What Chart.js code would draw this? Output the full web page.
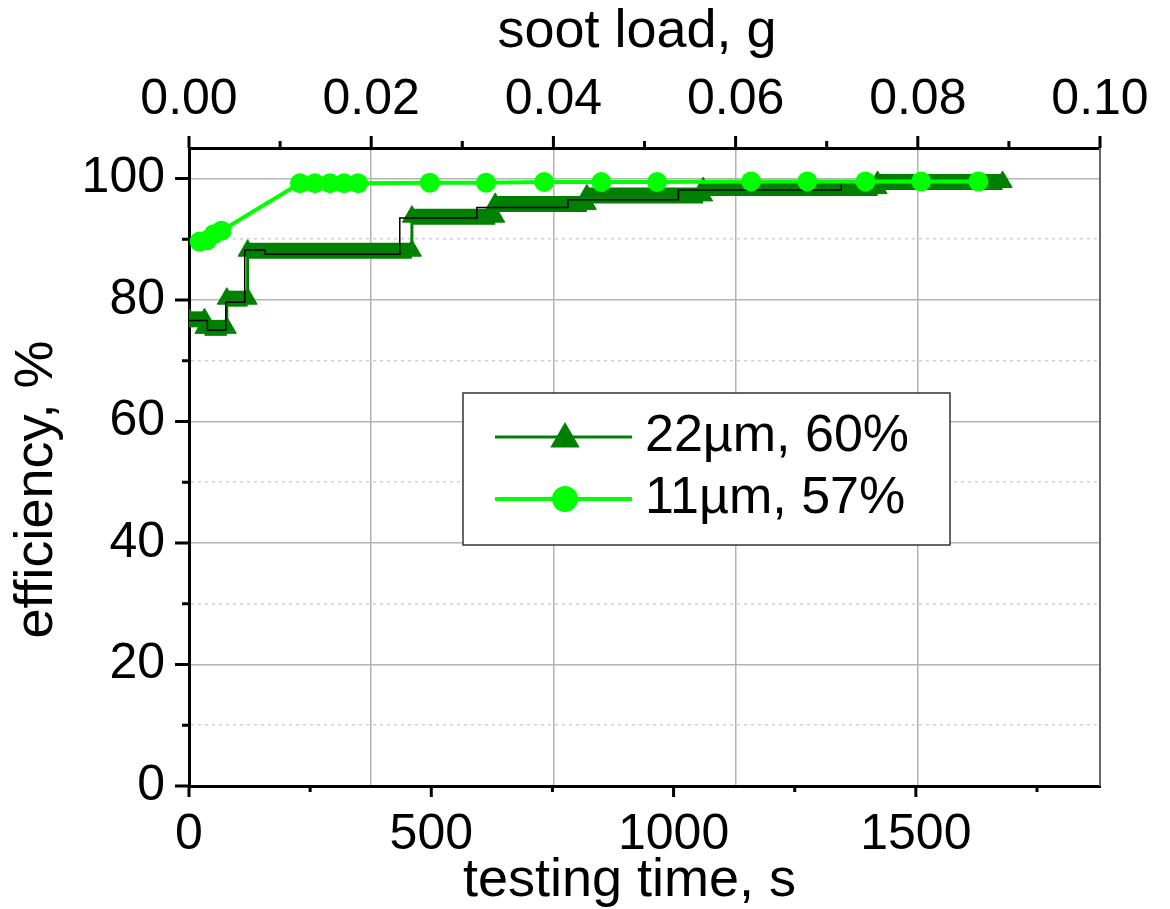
<!DOCTYPE html>
<html>
<head>
<meta charset="utf-8">
<script src="https://cdn.jsdelivr.net/npm/chart.js@4.4.1/dist/chart.umd.min.js"></script>
<style>
  body { margin: 0; background: #fff; }
</style>
</head>
<body>
<canvas id="myChart" width="1170" height="909"></canvas>
<script>
// tick values of the three axes
const timeTicks = [0, 250, 500, 750, 1000, 1250, 1500, 1750];
const sootTicks = [0, 0.01, 0.02, 0.03, 0.04, 0.05, 0.06, 0.07, 0.08, 0.09, 0.10];
const effTicks = [0, 10, 20, 30, 40, 50, 60, 70, 80, 90, 100];

// 22um, 60% - start and end of every step
const time22 = [0, 32, 32, 78, 78, 121, 121, 460, 460, 632, 632, 821, 821, 1061, 1061, 1421, 1421, 1679];
const eff22 = [76.8, 76.8, 75.4, 75.4, 80.2, 80.2, 88.1, 88.1, 93.7, 93.7, 95.8, 95.8, 97.2, 97.2, 98.4, 98.4, 99.4, 99.4];

// thin black step line
const timeStep = [0, 38, 76, 115, 157, 435, 594, 782, 1010, 1346, 1596];
const effStep = [76.6, 75.0, 79.6, 88.2, 87.5, 93.5, 95.2, 96.5, 98.1, 99.5, 99.5];

// 11um, 57%
const time11 = [22, 37, 51, 67, 229, 260, 291, 320, 349, 497, 613, 733, 851, 966, 1160, 1276, 1396, 1511, 1629];
const eff11 = [89.6, 89.8, 90.8, 91.4, 99.2, 99.2, 99.2, 99.2, 99.2, 99.3, 99.3, 99.4, 99.4, 99.4, 99.5, 99.5, 99.5, 99.5, 99.5];

const labels = ['22µm, 60%', '11µm, 57%'];

const darkGreen = 'rgb(0, 128, 0)';
const lightGreen = 'rgb(0, 255, 0)';

function toPoints(xs, ys) {
    return xs.map((x, i) => ({ x: x, y: ys[i] }));
}

Chart.defaults.font.family = "'Liberation Sans', Arial, sans-serif";
Chart.defaults.color = '#000';

// tick marks, drawn by hand so major and minor can differ in length
const tickMarks = {
    id: 'tickMarks',
    afterDraw(chart) {
        const ctx = chart.ctx;
        const area = chart.chartArea;
        const sx = chart.scales.x, sx2 = chart.scales.x2, sy = chart.scales.y;
        ctx.save();
        // right frame line
        ctx.strokeStyle = '#666';
        ctx.lineWidth = 2;
        ctx.beginPath();
        ctx.moveTo(area.right, area.top);
        ctx.lineTo(area.right, area.bottom);
        ctx.stroke();

        ctx.strokeStyle = '#000';
        ctx.lineWidth = 3;
        ctx.beginPath();
        timeTicks.forEach(v => {
            const px = sx.getPixelForValue(v);
            const len = v % 500 === 0 ? 11 : 6;
            ctx.moveTo(px, area.bottom);
            ctx.lineTo(px, area.bottom + len);
        });
        sootTicks.forEach(v => {
            const px = sx2.getPixelForValue(v);
            const len = Math.round(v * 100) % 2 === 0 ? 12 : 7;
            ctx.moveTo(px, area.top);
            ctx.lineTo(px, area.top - len);
        });
        effTicks.forEach(v => {
            const py = sy.getPixelForValue(v);
            const len = v % 20 === 0 ? 14 : 7;
            ctx.moveTo(area.left, py);
            ctx.lineTo(area.left - len, py);
        });
        ctx.stroke();
        ctx.restore();
    }
};

// legend box inside the plot: line + marker + text
const legendBox = {
    id: 'legendBox',
    afterDraw(chart) {
        const ctx = chart.ctx;
        const bx = 463, by = 393, bw = 487, bh = 152;
        ctx.save();
        ctx.fillStyle = '#fff';
        ctx.fillRect(bx, by, bw, bh);
        ctx.strokeStyle = '#333';
        ctx.lineWidth = 1.5;
        ctx.strokeRect(bx, by, bw, bh);

        const rows = [
            { ds: chart.data.datasets[2], y: 437, lw: 3, style: 'triangle', r: 14 },
            { ds: chart.data.datasets[0], y: 499, lw: 4, style: 'circle', r: 11 }
        ];
        rows.forEach(row => {
            ctx.strokeStyle = row.ds.borderColor;
            ctx.lineWidth = row.lw;
            ctx.beginPath();
            ctx.moveTo(495, row.y);
            ctx.lineTo(632, row.y);
            ctx.stroke();
            Chart.helpers.drawPoint(ctx, {
                pointStyle: row.style, radius: row.r, rotation: 0, borderWidth: 1
            }, 565, row.style === 'triangle' ? row.y + 2 : row.y);
            ctx.fillStyle = row.ds.borderColor;
            ctx.fill();
            ctx.fillStyle = '#000';
            ctx.font = "52px 'Liberation Sans', Arial, sans-serif";
            ctx.textBaseline = 'middle';
            ctx.textAlign = 'left';
            ctx.fillText(row.ds.label, 645, row.y);
        });
        ctx.restore();
    }
};

const myChart = document.getElementById('myChart');

let lineChart = new Chart(myChart, {
    type: 'line',
    data: {
        datasets: [
            {
                label: labels[1],
                data: toPoints(time11, eff11),
                borderColor: lightGreen,
                backgroundColor: lightGreen,
                borderWidth: 4,
                pointStyle: 'circle',
                pointRadius: 10,
                pointBorderWidth: 0,
                xAxisID: 'x',
                yAxisID: 'y'
            },
            {
                label: 'step',
                data: toPoints(timeStep, effStep),
                borderColor: '#000',
                borderWidth: 1.5,
                pointRadius: 0,
                stepped: true,
                xAxisID: 'x',
                yAxisID: 'y'
            },
            {
                label: labels[0],
                data: toPoints(time22, eff22),
                borderColor: darkGreen,
                backgroundColor: darkGreen,
                borderWidth: 3,
                pointStyle: 'triangle',
                pointRadius: 11,
                pointBorderWidth: 1,
                segment: {
                    borderWidth: c => c.p0.parsed.y === c.p1.parsed.y ? 16 : 3
                },
                xAxisID: 'x',
                yAxisID: 'y'
            }
        ]
    },
    options: {
        responsive: false,
        animation: false,
        devicePixelRatio: 1,
        layout: { padding: { right: 70, left: 0, top: 0, bottom: 0 } },
        plugins: {
            legend: { display: false },
            tooltip: { enabled: false }
        },
        scales: {
            x: {
                type: 'linear',
                position: 'bottom',
                min: 0,
                max: 1880,
                afterBuildTicks: s => { s.ticks = timeTicks.map(v => ({ value: v })); },
                afterFit: s => { s.height = 123; },
                ticks: {
                    padding: 19,
                    font: { size: 50 },
                    maxRotation: 0,
                    callback: v => v % 500 === 0 ? String(v) : ''
                },
                grid: { display: false, drawTicks: false },
                border: { display: true, color: '#000', width: 3 },
                title: {
                    display: true,
                    text: 'testing time, s  ',
                    font: { size: 54, lineHeight: 1 },
                    padding: { top: 0, bottom: 1 }
                }
            },
            x2: {
                type: 'linear',
                position: 'top',
                min: 0,
                max: 0.1,
                afterBuildTicks: s => { s.ticks = sootTicks.map(v => ({ value: v })); },
                afterFit: s => { s.height = 148; },
                ticks: {
                    padding: 18,
                    font: { size: 50 },
                    maxRotation: 0,
                    callback: v => Math.round(v * 100) % 2 === 0 ? v.toFixed(2) : ''
                },
                grid: {
                    drawTicks: false,
                    lineWidth: 1.5,
                    color: c => {
                        const k = Math.round(c.tick.value * 100);
                        if (k === 0 || k === 10) return 'rgba(0,0,0,0)';
                        return k % 2 === 0 ? '#b3b3b3' : '#d0d0d0';
                    }
                },
                border: {
                    display: true,
                    color: '#000',
                    width: 3,
                    dash: c => (c.tick && Math.round(c.tick.value * 100) % 2 === 1) ? [8, 5] : []
                },
                title: {
                    display: true,
                    text: 'soot load, g ',
                    font: { size: 54, lineHeight: 1 },
                    padding: { top: 5, bottom: 0 }
                }
            },
            y: {
                type: 'linear',
                position: 'left',
                min: 0,
                max: 105,
                afterBuildTicks: s => { s.ticks = effTicks.map(v => ({ value: v })); },
                afterFit: s => { s.width = 189; },
                ticks: {
                    padding: 24,
                    font: { size: 50 },
                    callback: v => v % 20 === 0 ? String(v) : ''
                },
                grid: {
                    drawTicks: false,
                    lineWidth: 1.5,
                    color: c => {
                        const v = c.tick.value;
                        if (v === 0) return 'rgba(0,0,0,0)';
                        return v % 20 === 0 ? '#b3b3b3' : '#d0d0d0';
                    }
                },
                border: {
                    display: true,
                    color: '#000',
                    width: 3,
                    dash: c => (c.tick && c.tick.value % 20 !== 0) ? [3, 4] : []
                },
                title: {
                    display: true,
                    text: 'efficiency, %   ',
                    font: { size: 54, lineHeight: 1 },
                    padding: { top: 10, bottom: 0 }
                }
            }
        }
    },
    plugins: [tickMarks, legendBox]
});
</script>
</body>
</html>
